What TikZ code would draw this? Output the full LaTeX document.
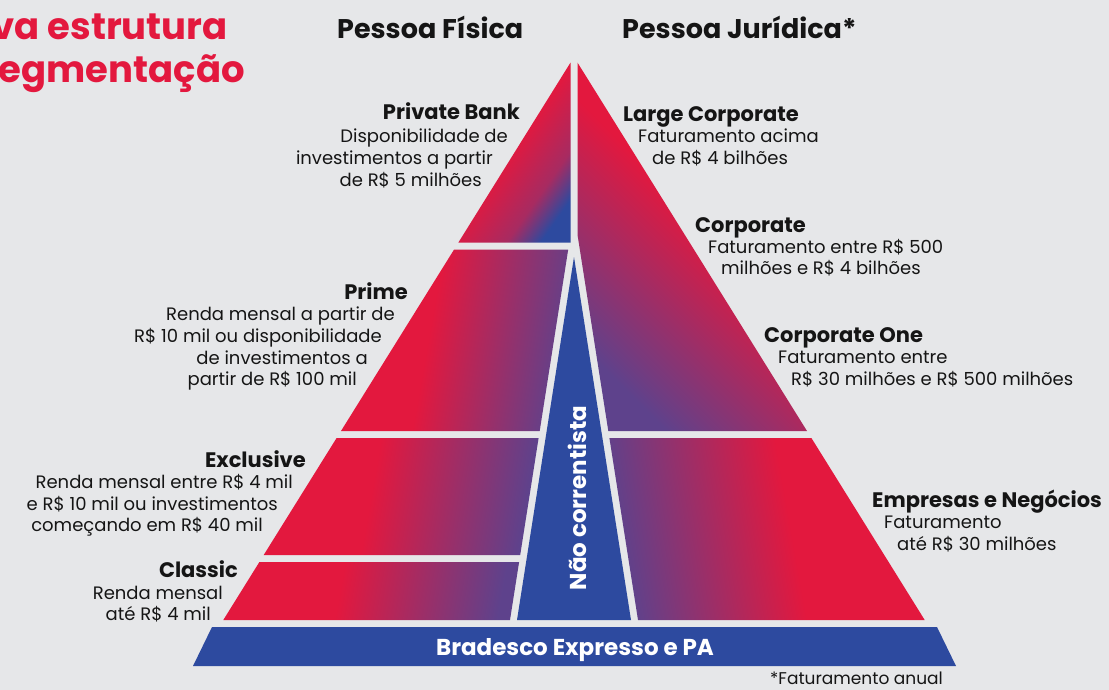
\documentclass[tikz,border=0pt]{standalone}
\usepackage{fontspec}
\setmainfont{Poppins}
\definecolor{bg}{HTML}{E6E7E9}
\definecolor{pr}{HTML}{E3183E}
\definecolor{pu}{HTML}{5E428C}
\definecolor{pb}{HTML}{2D4A9F}
\definecolor{ink}{HTML}{151515}
\colorlet{prmid}{pr!55!pu}
\pgfdeclarehorizontalshading{rowL}{100bp}{color(0bp)=(pr); color(25bp)=(pr); color(44bp)=(pr); color(75bp)=(pu); color(100bp)=(pu)}
\pgfdeclarehorizontalshading{rowR}{100bp}{color(0bp)=(pu); color(25bp)=(pu); color(54bp)=(pr); color(75bp)=(pr); color(100bp)=(pr)}
\pgfdeclarehorizontalshading{privsh}{100bp}{color(0bp)=(pr); color(25bp)=(pr); color(48bp)=(pr); color(66bp)=(prmid); color(76bp)=(pb); color(100bp)=(pb)}
\begin{document}
\begin{tikzpicture}[x=1pt,y=-1pt,
  hd/.style={font=\fontsize{27}{27}\selectfont\bfseries, text=ink, inner sep=0pt},
  lb/.style={font=\fontsize{21}{21}\selectfont\bfseries, text=ink, inner sep=0pt},
  tx/.style={font=\fontsize{18}{18}\selectfont, text=ink, inner sep=0pt},
  ft/.style={font=\fontsize{17}{17}\selectfont, text=ink, inner sep=0pt},
  ttl/.style={font=\fontsize{37}{37}\selectfont\bfseries, text=pr, inner sep=0pt},
  wt/.style={font=\fontsize{23}{23}\selectfont\bfseries, text=white, inner sep=0pt},
  le/.style={anchor=base east},
  ri/.style={anchor=base west}]
\useasboundingbox (0,0) rectangle (1109,690);
\fill[bg] (0,0) rectangle (1109,690);

% title (cut off at the left, as in the reference)
\node[ttl, le] (t1) at (228,40) {va estrutura};
\node[ttl, le] (t2) at (245,83) {egmentação};

% headers
\node[hd, ri] (hpf) at (337,39) {Pessoa Física};
\node[hd, ri] (hpj) at (622,39) {Pessoa Jurídica*};

% pyramid pieces
\shade[shading=privsh, shading angle=-35] (570.5,62.6) -- (570.5,242.5) -- (458.4,242.5) -- cycle;
\shade[shading=rowL, shading angle=-10] (454.1,249.5) -- (568.2,249.5) -- (539.7,431) -- (341,431) -- cycle;
\shade[shading=rowL, shading angle=-10] (336.6,438) -- (538.6,438) -- (520.2,555) -- (263.7,555) -- cycle;
\shade[shading=rowL, shading angle=-10] (259.4,562) -- (519.1,562) -- (510,620) -- (223.3,620) -- cycle;
\shade[shading=rowR, shading angle=45] (577.5,62.6) -- (807,431) -- (608.3,431) -- (577.5,234.7) -- cycle;
\shade[shading=rowR, shading angle=10] (609.4,438) -- (811.4,438) -- (924.7,620) -- (638,620) -- cycle;
\fill[pb] (574,257) -- (631,620) -- (517,620) -- cycle;
\fill[pb] (212,627) -- (937,627) -- (956,666) -- (193,666) -- cycle;

\node[wt, rotate=90] (nc) at (577,498) {Não correntista};
\node[wt, anchor=base] (bx) at (575,655) {Bradesco Expresso e PA};

% left labels
\node[lb, le] (pb0) at (520,120) {Private Bank};
\node[tx, le] (pb1) at (508,143) {Disponibilidade de};
\node[tx, le] (pb2) at (493,165) {investimentos a partir};
\node[tx, le] (pb3) at (482,186) {de R\$ 5 milhões};

\node[lb, le] (pr0) at (408,299) {Prime};
\node[tx, le] (pr1) at (395,320) {Renda mensal a partir de};
\node[tx, le] (pr2) at (382,342) {R\$ 10 mil ou disponibilidade};
\node[tx, le] (pr3) at (368,364) {de investimentos a};
\node[tx, le] (pr4) at (357,385) {partir de R\$ 100 mil};

\node[lb, le] (ex0) at (306,467) {Exclusive};
\node[tx, le] (ex1) at (293,488) {Renda mensal entre R\$ 4 mil};
\node[tx, le] (ex2) at (278,510) {e R\$ 10 mil ou investimentos};
\node[tx, le] (ex3) at (263,531) {começando em R\$ 40 mil};

\node[lb, le] (cl0) at (238,577) {Classic};
\node[tx, le] (cl1) at (223,599) {Renda mensal};
\node[tx, le] (cl2) at (211,620) {até R\$ 4 mil};

% right labels
\node[lb, ri] (lc0) at (623,122) {Large Corporate};
\node[tx, ri] (lc1) at (638,143) {Faturamento acima};
\node[tx, ri] (lc2) at (652,165) {de R\$ 4 bilhões};

\node[lb, ri] (co0) at (695,232) {Corporate};
\node[tx, ri] (co1) at (708,253) {Faturamento entre R\$ 500};
\node[tx, ri] (co2) at (721,274) {milhões e R\$ 4 bilhões};

\node[lb, ri] (cn0) at (764,342) {Corporate One};
\node[tx, ri] (cn1) at (778,363) {Faturamento entre};
\node[tx, ri] (cn2) at (791,385) {R\$ 30 milhões e R\$ 500 milhões};

\node[lb, ri] (en0) at (872,507) {Empresas e Negócios};
\node[tx, ri] (en1) at (884,528) {Faturamento};
\node[tx, ri] (en2) at (897,550) {até R\$ 30 milhões};

\node[ft, ri] (fn) at (770,684) {*Faturamento anual};
\end{tikzpicture}
\end{document}
